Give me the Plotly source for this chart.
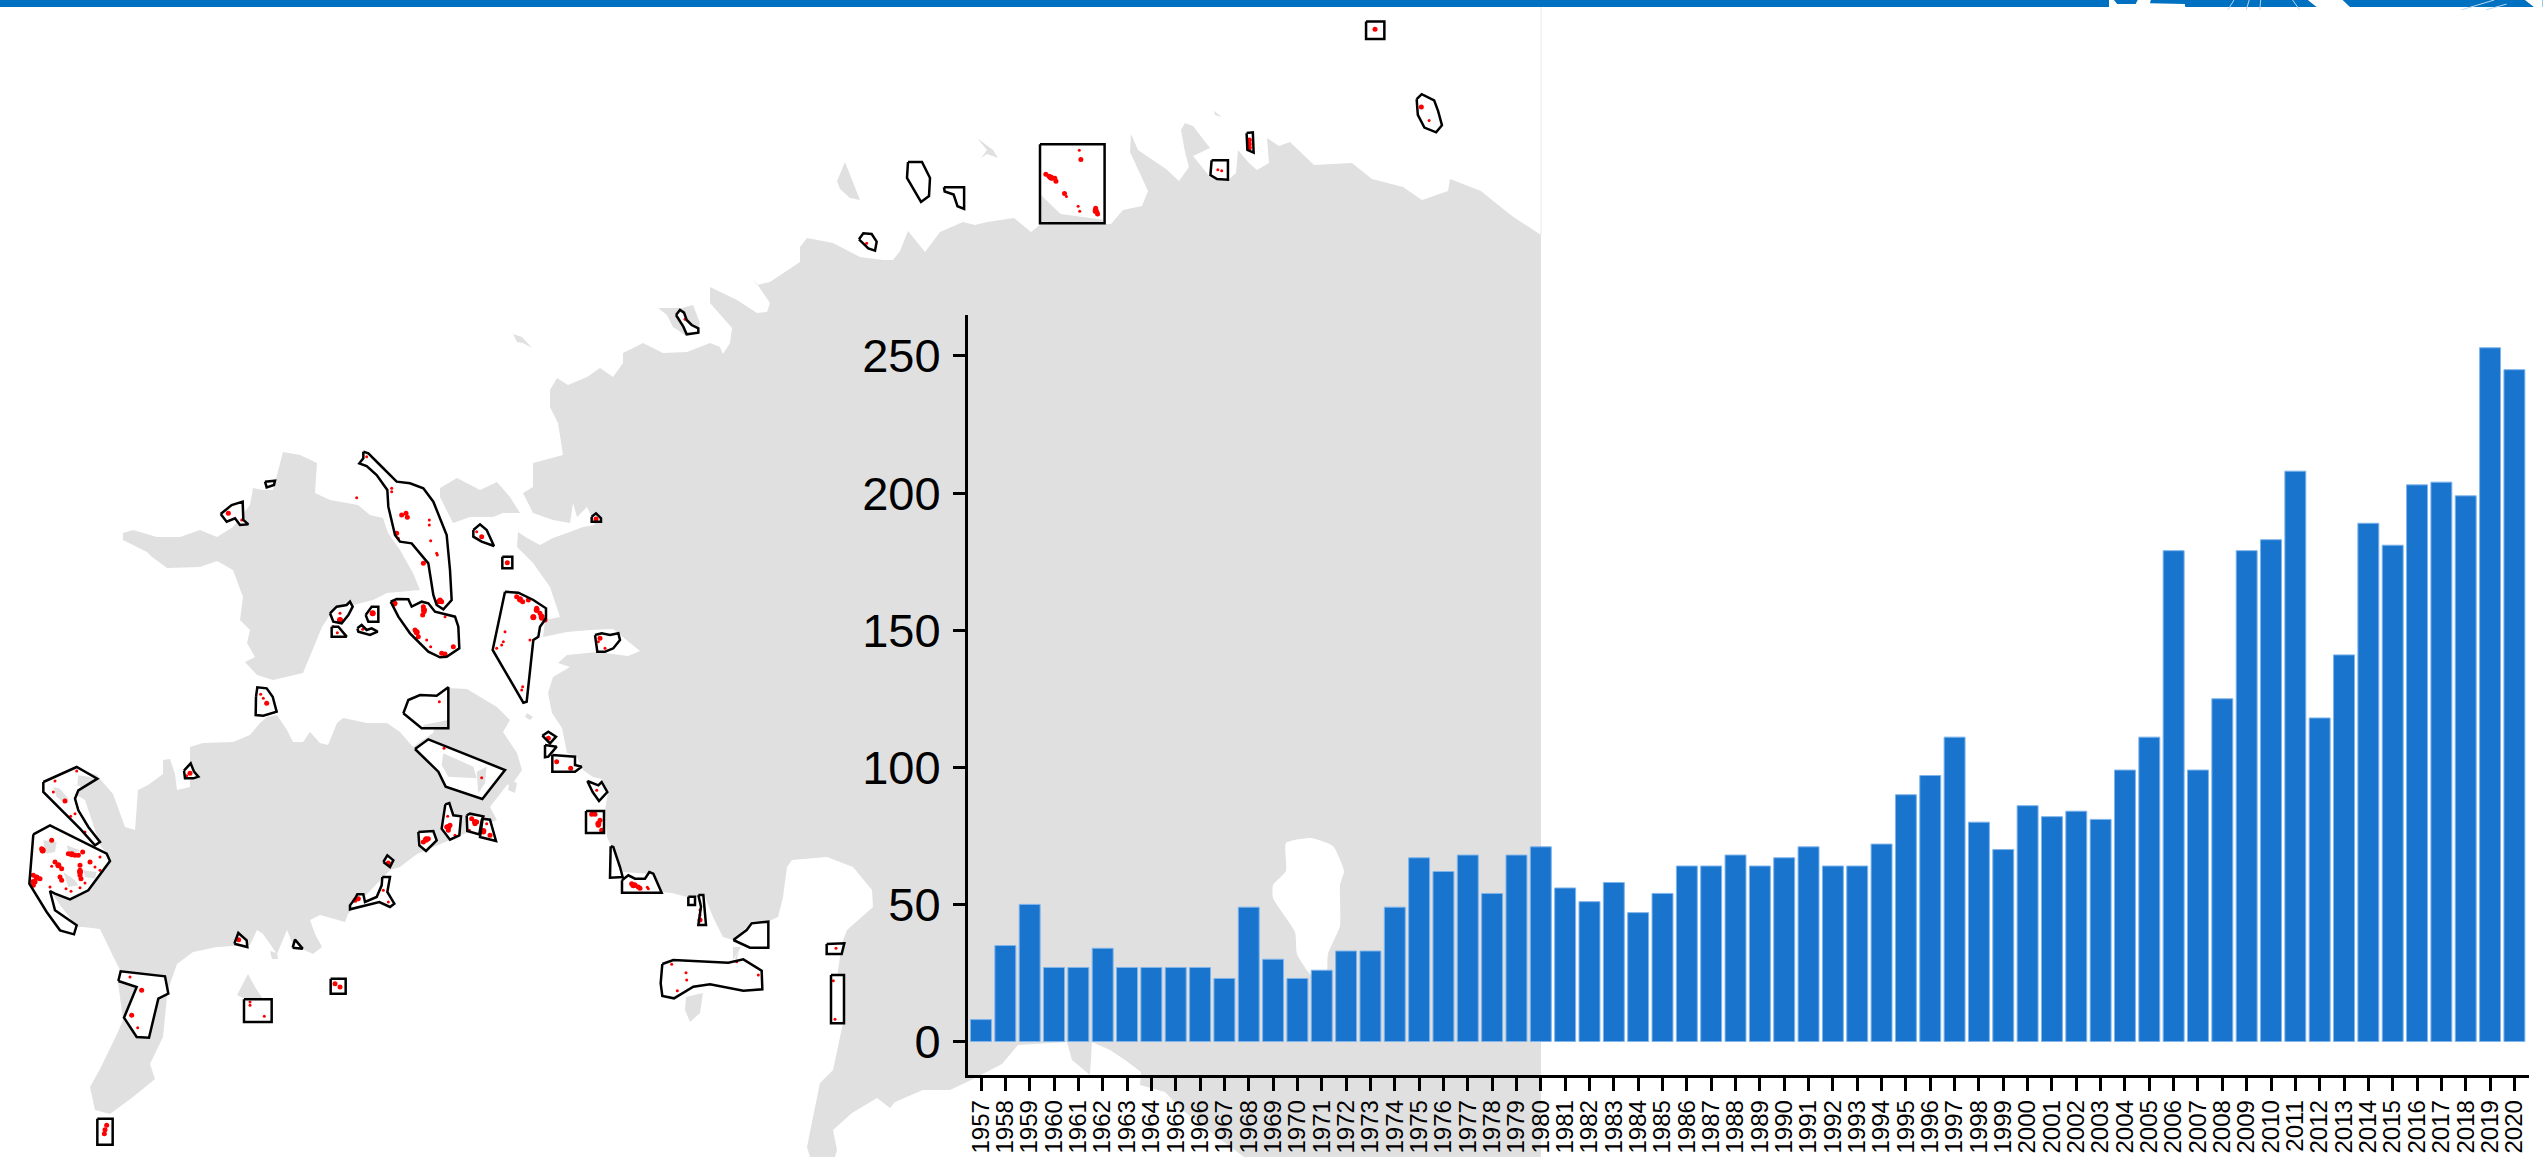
import plotly.graph_objects as go

YEARS = list(range(1957, 2021))
COUNTS = [8, 35, 50, 27, 27, 34, 27, 27, 27, 27, 23, 49, 30, 23, 26, 33, 33, 49, 67, 62,
          68, 54, 68, 71, 56, 51, 58, 47, 54, 64, 64, 68, 64, 67, 71, 64, 64, 72, 90, 97,
          111, 80, 70, 86, 82, 84, 81, 99, 111, 179, 99, 125, 179, 183, 208, 118, 141, 189,
          181, 203, 204, 199, 253, 245]
YEAR_LABELS = [str(y) for y in YEARS]
COUNT_TICKS = [0, 50, 100, 150, 200, 250]

# Map geometry, as (left, top, zoom, "x,y x,y ...") tracings in image coordinates.
MAINLAND = (0, 0, 1, "1541,235 1512,216 1492,200 1481,191 1450,179 1448,191 1422,200 1403,187 1372,179 1352,163 1314,165 1290,142 1279,146 1267,138 1269,163 1257,170 1249,163 1238,150 1236,173 1228,180 1210,177 1193,156 1210,148 1193,126 1185,123 1181,130 1185,152 1189,167 1179,181 1166,169 1138,150 1131,134 1130,152 1148,191 1142,206 1123,210 1111,224 1041,224 1031,232 1014,218 987,222 975,225 963,222 940,232 925,252 908,231 900,251 893,260 883,260 860,257 833,243 807,238 800,247 800,262 770,282 757,285 753,278 770,303 767,312 757,313 737,300 710,287 710,303 732,328 730,343 723,354 720,347 710,343 687,352 663,353 643,343 623,353 623,363 613,377 600,368 587,377 568,385 557,378 550,390 550,407 558,423 563,455 533,463 533,487 523,493 533,513 553,520 570,523 573,503 577,517 587,507 590,513 595,525 583,527 567,533 553,538 540,545 527,538 518,532 517,547 533,563 550,587 560,617 545,620 543,637 567,632 590,630 613,629 640,651 628,656 597,652 567,655 558,663 570,667 553,677 548,693 552,713 562,728 567,753 577,757 583,770 593,777 602,779 608,792 605,810 607,837 613,849 623,872 650,874 662,892 672,893 687,897 705,897 713,917 723,937 733,940 747,927 767,922 778,917 783,897 787,867 792,860 827,857 853,867 872,890 873,907 847,930 842,943 837,977 843,1023 833,1070 820,1083 813,1117 807,1147 810,1157 835,1157 837,1150 833,1130 852,1113 877,1098 890,1108 895,1102 923,1090 950,1090 967,1082 980,1075 1002,1064 1018,1045 1067,1042 1072,1060 1090,1075 1092,1042 1110,1050 1125,1060 1141,1072 1140,1085 1165,1092 1180,1108 1208,1130 1244,1157 1541,1157")
HIIUMAA = (0, 0, 1, "123,533 133,530 157,537 180,537 200,530 217,537 233,527 250,505 253,488 263,490 273,490 283,452 300,455 317,463 315,493 330,500 347,503 358,505 370,515 383,518 388,533 400,550 413,573 420,590 387,593 373,600 333,610 322,627 303,673 273,680 257,675 245,662 255,657 247,643 250,630 240,620 243,597 233,570 217,561 200,567 167,568 152,557 147,552 123,540")
SAAREMAA = (0, 0, 1, "100,779 113,794 125,827 135,830 138,790 148,785 163,774 163,760 170,759 175,774 177,790 190,787 190,747 203,743 233,742 250,735 260,723 267,717 277,715 287,730 293,742 303,742 310,732 320,743 328,745 337,723 343,718 367,723 387,723 400,732 413,747 433,733 448,688 467,689 497,707 510,720 503,732 517,753 522,770 513,783 507,785 490,807 497,820 417,854 400,867 390,870 348,914 345,922 320,915 310,920 315,934 322,947 313,954 293,945 287,930 277,954 263,934 257,930 250,945 217,947 193,952 177,964 170,984 167,997 163,1037 150,1064 155,1079 133,1097 110,1114 95,1110 90,1087 100,1069 117,1034 123,1020 118,982 120,970 112,954 100,929 83,927 77,927 60,905 50,890 60,840 107,854 100,845 85,800 60,785 80,770 97,775")
ISLES = [
    (0, 0, 1, "440,488 457,478 480,490 497,482 510,497 520,513 503,513 493,517 470,517 453,523 440,497"),
    (0, 0, 1, "513,334 522,337 532,348 523,343 517,342"),
    (0, 0, 1, "658,308 682,308 693,305 700,323 697,332 685,335 673,327 667,315"),
    (0, 0, 1, "845,162 852,180 860,200 850,198 840,189 837,181"),
    (0, 0, 1, "977,138 993,150 998,158 987,154 981,158 987,150"),
    (0, 0, 1, "1214,111 1222,117 1215,115"),
    (0, 0, 1, "527,713 533,717 530,720 525,717"),
    (0, 0, 1, "510,780 517,783 515,793 508,790"),
    (0, 0, 1, "686,997 703,993 700,1013 690,1022 685,1010"),
    (0, 0, 1, "733,947 741,947 733,960"),
    (0, 0, 1, "237,995 248,974 255,987 263,999 245,999"),
    (0, 0, 1, "270,951 277,953 278,959 272,959"),
]
LAKE = (0, 0, 1, "1286,843 1311,838 1333,846 1344,871 1340,885 1340,926 1328,954 1326,980 1311,975 1297,954 1295,932 1273,898 1273,885 1286,871")
PATCHES = [
    (0, 757, 3, "235,55 270,60 285,65 245,90 232,85"),
    (0, 757, 3, "160,90 180,95 205,125 190,135 170,120"),
    (0, 757, 3, "130,250 170,255 165,285 135,290"),
    (0, 757, 3, "200,265 240,280 225,290 205,285"),
    (0, 757, 3, "190,345 225,370 235,385 205,390"),
    (0, 757, 3, "250,340 290,345 285,365 255,360"),
    (300, 400, 3, "430,1060 520,1100 530,1135 445,1130 425,1095"),
    (300, 400, 3, "530,1115 560,1100 555,1150 535,1180"),
    (300, 400, 3, "370,975 445,960 445,985 370,985"),
    (940, 0, 2.57, "258,500 310,550 420,565 420,574 258,574"),
    (600, 650, 3, "405,925 418,897 410,930"),
]
OUTLINES = [
    (0, 0, 1, "908,162 922,162 930,178 929,196 921,202 913,189 907,178"),
    (940, 0, 2.57, "1095,55 1142,55 1142,100 1095,100"),
    (940, 0, 2.57, "1225,255 1238,242 1270,258 1280,285 1290,322 1275,340 1245,328 1228,295"),
    (940, 0, 2.57, "788,342 804,340 806,392 790,385"),
    (940, 0, 2.57, "698,412 740,412 740,462 712,460 695,450"),
    (940, 0, 2.57, "257,371 423,371 423,574 257,574"),
    (940, 0, 2.57, "10,481 62,481 62,537 45,530 35,500 12,492"),
    (500, 200, 3, "1077,118 1090,100 1115,102 1130,125 1125,152 1105,145"),
    (500, 200, 3, "528,345 540,330 552,338 560,360 575,375 595,385 595,398 560,403 550,380"),
    (500, 200, 3, "275,950 288,940 303,955 303,965 275,965"),
    (300, 400, 3, "190,155 205,160 240,195 290,245 330,250 370,265 400,305 440,405 450,510 455,600 430,628 410,615 400,585 385,490 335,430 300,425 285,405 265,320 262,270 230,225 200,198 178,190 190,175"),
    (300, 400, 3, "272,605 290,597 325,598 335,620 365,605 385,610 405,635 465,650 475,680 478,745 440,770 420,772 385,755 330,700 295,650"),
    (300, 400, 3, "615,575 655,578 700,600 738,625 738,655 720,680 715,710 700,720 680,905 670,908 578,750"),
    (300, 400, 3, "520,390 540,373 560,390 582,438 545,425 520,410"),
    (300, 400, 3, "607,470 637,470 637,505 607,505"),
    (300, 400, 3, "885,705 905,700 930,705 955,700 960,720 940,745 915,755 892,755"),
    (0, 430, 3, "662,252 695,225 728,215 730,270 745,283 720,285 705,265 680,275"),
    (0, 430, 3, "795,155 825,152 822,165 800,172"),
    (0, 430, 3, "768,800 772,772 800,775 818,800 830,845 790,857 767,855"),
    (0, 430, 3, "552,1022 572,1000 582,1025 595,1040 580,1045 555,1045"),
    (0, 430, 3, "990,550 1010,530 1040,525 1050,515 1058,530 1045,555 1025,580 1000,575"),
    (0, 430, 3, "995,590 1015,590 1040,620 995,620"),
    (0, 430, 3, "1097,555 1115,530 1135,530 1135,575 1105,575"),
    (0, 430, 3, "1072,595 1085,585 1100,600 1115,595 1133,605 1110,615 1075,605"),
    (300, 400, 3, "310,940 325,900 360,885 410,887 445,862 445,985 365,985"),
    (300, 400, 3, "345,1047 385,1018 615,1110 547,1197 437,1160 415,1115"),
    (300, 400, 3, "727,1007 745,995 768,1010 750,1030"),
    (300, 400, 3, "735,1035 770,1040 745,1070 735,1072"),
    (300, 400, 3, "757,1065 825,1070 825,1095 845,1100 825,1115 757,1115"),
    (300, 757, 3, "862,72 895,85 905,75 922,105 897,132 878,105"),
    (300, 757, 3, "858,162 912,162 912,228 858,228"),
    (300, 757, 3, "932,268 940,270 960,330 968,360 930,362"),
    (300, 757, 3, "966,370 985,355 1005,365 1035,365 1048,345 1060,350 1085,407 966,407"),
    (300, 757, 3, "436,142 448,138 460,175 483,178 478,235 450,248 425,215"),
    (300, 757, 3, "500,175 510,170 550,178 545,190 538,232 502,222"),
    (300, 757, 3, "548,185 570,188 588,252 540,240"),
    (300, 757, 3, "355,225 400,222 410,250 378,282 358,265"),
    (300, 757, 3, "250,315 262,295 280,310 270,330"),
    (300, 757, 3, "247,360 270,360 262,405 283,440 270,450 238,435 150,457 150,445 165,425 172,412 190,412 195,435 230,420 245,385"),
    (300, 757, 3, "92,665 137,665 137,710 92,710"),
    (0, 757, 3, "130,75 230,30 292,65 235,100 225,125 235,160 265,210 300,255 285,265 240,215 130,105"),
    (0, 757, 3, "100,232 150,205 320,290 330,312 265,400 210,427 165,410 150,402 165,460 230,505 222,532 180,520 140,465 88,380"),
    (0, 757, 3, "355,672 362,643 495,658 505,710 475,725 447,842 410,840 372,782 410,690"),
    (0, 757, 3, "732,727 815,727 815,795 732,795"),
    (0, 757, 3, "292,1085 338,1085 338,1163 292,1163"),
    (0, 757, 3, "703,560 715,528 740,550 742,570"),
    (0, 757, 3, "878,572 885,548 908,575"),
    (600, 650, 3, "265,740 285,740 285,765 265,765"),
    (600, 650, 3, "295,735 310,735 318,825 295,825 303,770"),
    (600, 650, 3, "400,870 440,840 455,820 505,815 505,893 450,893"),
    (600, 650, 3, "187,942 220,930 385,938 430,928 485,962 487,1018 430,1022 330,1003 280,1010 222,1045 187,1038 182,1000"),
    (600, 650, 3, "680,882 733,880 725,912 680,912"),
    (600, 650, 3, "693,975 732,975 732,1120 693,1120"),
]
RED_SMALL = [
    (940, 0, 2.57, "358,386 325,505 355,530 359,543 1257,310 714,436 724,439"),
    (500, 200, 3, "1100,130 555,358"),
    (300, 400, 3, "200,170 275,265 275,275 388,360 388,375 392,422 410,460 412,465 295,415 170,293 380,720 392,740 435,650 615,695 610,725 605,735 590,745 690,720 668,860 665,870 530,395 915,745 895,725 432,1045 545,1133 418,905"),
    (0, 430, 3, "725,270 1020,550 1012,608 1000,590 1088,598 790,805 782,793 560,1037"),
    (0, 757, 3, "230,42 165,72 160,105 225,170 212,178 255,225 300,300 285,330 155,328 255,378 198,395 213,403 240,392 150,390 300,340 390,660 413,812 750,745 750,735 793,778 1150,400 1165,435"),
    (300, 757, 3, "465,235 443,178 508,220 560,200 890,100 1045,395"),
    (600, 650, 3, "142,712 215,943 258,968 260,990 232,1022 475,975 410,935 708,895 700,992 705,1108 300,780 300,795"),
]
RED_MEDIUM = [
    (940, 0, 2.57, "362,410 272,448 280,453 288,458 295,458 298,466 320,497 400,535 403,545 405,550 1118,75 1237,275 795,370 795,360 795,380"),
    (500, 200, 3, "288,957"),
    (300, 400, 3, "305,345 318,340 322,352 370,490 290,400 420,600 415,605 425,605 283,612 370,620 372,635 368,645 350,695 345,690 355,710 425,760 435,762 460,740 650,590 660,600 668,605 685,600 710,625 700,650 725,655 720,640 735,660 545,410 622,488 900,715 745,1015 770,1085 812,1105"),
    (0, 430, 3, "685,250 1020,570 1118,550 1185,520 800,820 570,1030"),
    (0, 757, 3, "195,132 155,250 128,282 125,275 205,290 215,292 225,295 235,295 248,285 270,315 240,325 240,340 240,355 243,365 165,315 175,325 185,335 180,360 185,370 100,355 110,360 120,365 105,375 100,385 425,700 395,775 320,1105 315,1118 313,1130 1165,318 1075,425 1065,430 716,548"),
    (300, 757, 3, "378,245 370,255 385,245 440,210 450,205 445,220 515,185 530,195 525,200 550,225 570,235 875,172 885,172 900,190 895,205 905,220 105,680 120,690 995,380 1005,385 1015,390"),
    (600, 650, 3, "105,705 120,715 300,810"),
]
RED_LARGE = [
    (940, 0, 2.57, "285,456 400,542"),
    (300, 400, 3, "420,603 372,630 350,697 660,598 710,630 700,652 725,650"),
    (0, 430, 3, "1118,550 1020,570"),
    (0, 757, 3, "110,362 100,375 215,292 128,280 240,345 175,325"),
    (300, 757, 3, "378,248 445,210 525,195 550,222 895,200 1000,385"),
]
TOP_BAND = (0, 0, 1, "0,0 2543,0 2543,7 0,7")
BAND_GAPS = [
    (1900, 0, 2.44, "510,0 522,0 530,10 575,10 580,0 612,0 610,8 695,10 697,24 510,24"),
    (1900, 0, 2.44, "995,0 1080,0 1105,24 1025,24"),
    (1900, 0, 2.44, "1525,0 1568,0 1568,24 1555,24"),
]
BAND_LINES = [
    (1900, 0, 2.44, "815,0 800,24"), (1900, 0, 2.44, "852,0 845,24"), (1900, 0, 2.44, "880,0 878,24"),
    (1900, 0, 2.44, "958,0 975,24"), (1900, 0, 2.44, "1450,0 1370,24"), (1900, 0, 2.44, "1480,10 1430,24"),
]
EDGE_LINE = (0, 0, 1, "1541,7 1541,235")


def pts(trace):
    left, top, zoom, text = trace
    xs, ys = [], []
    for pair in text.split():
        a, b = pair.split(",")
        xs.append(left + float(a) / zoom)
        ys.append(top + float(b) / zoom)
    return xs, ys


def rings(group, close=True):
    xs, ys = [], []
    for item in group:
        a, b = pts(item)
        if close:
            a, b = a + a[:1], b + b[:1]
        xs += a + [None]
        ys += b + [None]
    return xs, ys


def cloud(group):
    xs, ys = [], []
    for item in group:
        a, b = pts(item)
        xs += a
        ys += b
    return xs, ys


fig = go.Figure()


def area(group, fill, line=None, width=0, shape="linear"):
    x, y = rings(group)
    fig.add_trace(go.Scatter(x=x, y=y, mode="lines", fill="toself", fillcolor=fill,
                             line=dict(color=line or fill, width=width, shape=shape, smoothing=0.5),
                             hoverinfo="skip", showlegend=False, xaxis="x", yaxis="y"))


area([MAINLAND, HIIUMAA, SAAREMAA] + ISLES, "#E0E0E0")
area([LAKE], "#FFFFFF", shape="spline")
x, y = pts(EDGE_LINE)
fig.add_trace(go.Scatter(x=x, y=y, mode="lines", line=dict(color="#E8E8E8", width=1),
                         hoverinfo="skip", showlegend=False, xaxis="x", yaxis="y"))
area(OUTLINES, "#FFFFFF")
area(PATCHES, "#E0E0E0")
for group, size in ((RED_SMALL, 3), (RED_MEDIUM, 5), (RED_LARGE, 6)):
    x, y = cloud(group)
    fig.add_trace(go.Scatter(x=x, y=y, mode="markers", marker=dict(color="#FF0000", size=size, line=dict(width=0)),
                             hoverinfo="skip", showlegend=False, xaxis="x", yaxis="y"))
x, y = rings(OUTLINES)
fig.add_trace(go.Scatter(x=x, y=y, mode="lines", line=dict(color="#000000", width=2.5),
                         hoverinfo="skip", showlegend=False, xaxis="x", yaxis="y"))
area([TOP_BAND], "#0070C0")
area(BAND_GAPS, "#FFFFFF")
x, y = rings(BAND_LINES, close=False)
fig.add_trace(go.Scatter(x=x, y=y, mode="lines", line=dict(color="#BBD6EE", width=1),
                         hoverinfo="skip", showlegend=False, xaxis="x", yaxis="y"))

fig.add_trace(go.Bar(x=YEARS, y=COUNTS, width=0.86, marker=dict(color="#1874CD", line=dict(color="#7FB4EC", width=1)),
                     showlegend=False, xaxis="x2", yaxis="y2"))

W, H = 2543, 1157
fig.update_layout(
    width=W, height=H, margin=dict(l=0, r=0, t=0, b=0), autosize=False,
    paper_bgcolor="#FFFFFF", plot_bgcolor="rgba(0,0,0,0)",
    font=dict(family="Liberation Sans, Arial, sans-serif", color="#000000"),
    xaxis=dict(domain=[0, 1], range=[0, W], visible=False, showgrid=False, zeroline=False, fixedrange=True),
    yaxis=dict(domain=[0, 1], range=[H, 0], visible=False, showgrid=False, zeroline=False, fixedrange=True),
    xaxis2=dict(domain=[968 / W, 2529 / W], range=[1956.466, 2020.6], anchor="y2", showgrid=False, zeroline=False,
                showline=True, linecolor="#000000", linewidth=3, ticks="outside", ticklen=13, tickwidth=2.5,
                tickcolor="#000000", tickmode="array", tickvals=YEARS, ticktext=YEAR_LABELS, tickangle=-90,
                tickfont=dict(size=24, color="#000000"), fixedrange=True),
    yaxis2=dict(domain=[(H - 1074.5) / H, (H - 315) / H], range=[-12.03, 264.95], anchor="x2", showgrid=False,
                zeroline=False, showline=True, linecolor="#000000", linewidth=3, ticks="outside", ticklen=12,
                tickwidth=2.5, tickcolor="#000000", tickmode="array", tickvals=COUNT_TICKS,
                ticktext=[str(t) for t in COUNT_TICKS], tickfont=dict(size=47, color="#000000"),
                ticklabelstandoff=3, fixedrange=True),
)

fig.write_html("out.html", config={"displayModeBar": False},
               post_script="document.body.style.margin='0';document.body.style.overflow='hidden';")
